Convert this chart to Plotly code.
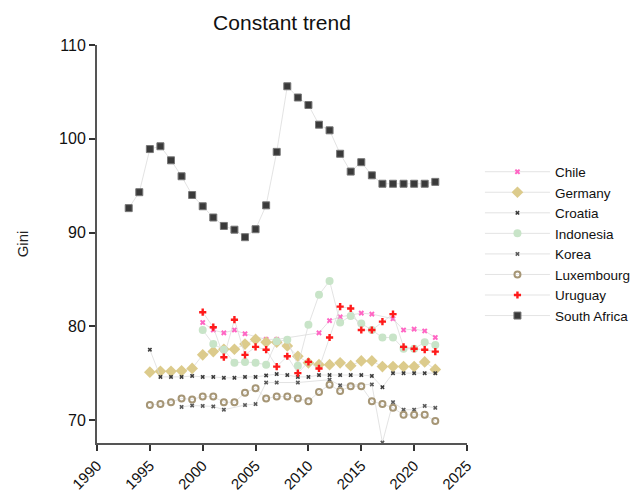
import plotly.graph_objects as go

# ---- data ----
chile_years = [2000, 2001, 2002, 2003, 2004, 2006, 2007, 2011, 2012, 2013, 2015, 2016, 2018, 2019, 2020, 2021, 2022]
chile_vals = [80.4, 79.6, 79.3, 79.6, 79.2, 78.6, 78.6, 79.3, 80.6, 81.0, 81.4, 81.3, 80.8, 79.6, 79.7, 79.5, 78.8]

germany_years = list(range(1995, 2023))
germany_vals = [75.1, 75.2, 75.2, 75.25, 75.5, 76.95, 77.3, 77.55, 77.55, 78.1, 78.6, 78.3, 78.3,
                77.9, 76.8, 76.1, 75.9, 75.9, 76.1, 75.8, 76.3, 76.3, 75.7, 75.7, 75.7, 75.7, 76.2, 75.4]

croatia_years = list(range(1995, 2023))
croatia_vals = [77.5, 74.6, 74.6, 74.6, 74.7, 74.6, 74.6, 74.5, 74.5, 74.6, 74.6, 74.75, 74.9,
                74.8, 74.6, 74.6, 74.8, 74.8, 74.8, 74.8, 74.8, 74.7, 73.5, 75.0, 75.0, 75.0, 75.0, 75.0]

indonesia_years = list(range(2000, 2023))
indonesia_vals = [79.6, 78.1, 77.5, 76.1, 76.2, 76.1, 75.9, 78.4, 78.55, 75.8, 80.15, 83.35, 84.84,
                  80.4, 81.1, 80.3, 79.6, 78.8, 78.8, 77.6, 77.6, 78.3, 78.0]

korea_years = [1998, 1999, 2000, 2001, 2002, 2004, 2005, 2006, 2007, 2009, 2012, 2013, 2016, 2017, 2018, 2019, 2020, 2021, 2022]
korea_vals = [71.4, 71.55, 71.5, 71.45, 71.1, 71.6, 71.7, 74.0, 74.0, 74.0, 74.3, 73.7, 73.8, 67.6, 71.9, 71.1, 71.1, 71.5, 71.3]

lux_years = list(range(1995, 2023))
lux_vals = [71.6, 71.7, 71.9, 72.3, 72.2, 72.5, 72.5, 71.9, 71.9, 72.9, 73.4, 72.3, 72.5, 72.5,
            72.3, 72.0, 73.0, 73.75, 73.1, 73.6, 73.6, 72.0, 71.7, 71.3, 70.55, 70.55, 70.55, 69.9]

uruguay_years = list(range(2000, 2023))
uruguay_vals = [81.5, 79.9, 76.7, 80.7, 76.95, 77.8, 77.5, 75.7, 76.8, 75.0, 76.2, 75.5, 78.8,
                82.1, 81.9, 79.6, 79.6, 80.5, 81.3, 77.8, 77.6, 77.5, 77.3]

sa_years = list(range(1993, 2023))
sa_vals = [92.6, 94.3, 98.9, 99.2, 97.7, 96.0, 94.0, 92.8, 91.6, 90.7, 90.3, 89.5, 90.35, 92.9, 98.6,
           105.6, 104.4, 103.6, 101.5, 100.9, 98.4, 96.5, 97.5, 96.1, 95.2, 95.2, 95.2, 95.2, 95.2, 95.4]

x_ticks = [1990, 1995, 2000, 2005, 2010, 2015, 2020, 2025]
y_ticks = [70, 80, 90, 100, 110]

series = [
    ("Chile", chile_years, chile_vals, dict(symbol="x", size=5, color="#ff66c4")),
    ("Germany", germany_years, germany_vals, dict(symbol="diamond", size=9, color="#dccb8c")),
    ("Croatia", croatia_years, croatia_vals, dict(symbol="x", size=4, color="#3c3c3c")),
    ("Indonesia", indonesia_years, indonesia_vals, dict(symbol="circle", size=8, color="#c8e4c8")),
    ("Korea", korea_years, korea_vals, dict(symbol="x", size=4, color="#5a5a5a")),
    ("Luxembourg", lux_years, lux_vals, dict(symbol="circle-open", size=6, color="#a69676", line=dict(width=2))),
    ("Uruguay", uruguay_years, uruguay_vals, dict(symbol="cross", size=6, color="#ff1a1a")),
    ("South Africa", sa_years, sa_vals, dict(symbol="square", size=7, color="#3a3a3a", line=dict(width=1, color="#777777"))),
]

fig = go.Figure()
for name, xs, ys, mk in series:
    fig.add_trace(go.Scatter(
        x=xs, y=ys, name=name, mode="lines+markers",
        line=dict(color="rgba(215,215,215,0.7)", width=1),
        marker=mk, cliponaxis=False,
    ))

font_family = "Liberation Sans, Arial, sans-serif"
fig.update_layout(
    width=644, height=493,
    margin=dict(l=97, r=177, t=45, b=50, autoexpand=False),
    paper_bgcolor="white", plot_bgcolor="white",
    font=dict(family=font_family, size=14, color="#222"),
    title=dict(text="Constant trend", x=0.5, xref="paper", y=0.955, yanchor="middle",
               font=dict(size=21, color="#111")),
    showlegend=True,
    legend=dict(x=1.035, y=0.72, xanchor="left", yanchor="top", itemwidth=65,
                font=dict(size=13.5, color="#111"), bgcolor="rgba(0,0,0,0)",
                tracegroupgap=0),
    xaxis=dict(range=[1990, 2025], tickvals=x_ticks, tickangle=-45, automargin=False,
               showgrid=False, zeroline=False, showline=True, linecolor="#555", linewidth=2,
               ticks="outside", ticklen=6, tickwidth=2, tickcolor="#333",
               tickfont=dict(size=15, color="#111")),
    yaxis=dict(range=[67.55, 110], tickvals=y_ticks, automargin=False,
               title=dict(text="Gini", font=dict(size=15), standoff=27),
               showgrid=False, zeroline=False, showline=True, linecolor="#555", linewidth=2,
               ticks="outside", ticklen=6, tickwidth=2, tickcolor="#333",
               tickfont=dict(size=16, color="#111")),
)

fig.write_html("out.html", config={"displayModeBar": False},
               post_script="document.body.style.margin='0';document.body.style.padding='0';")
